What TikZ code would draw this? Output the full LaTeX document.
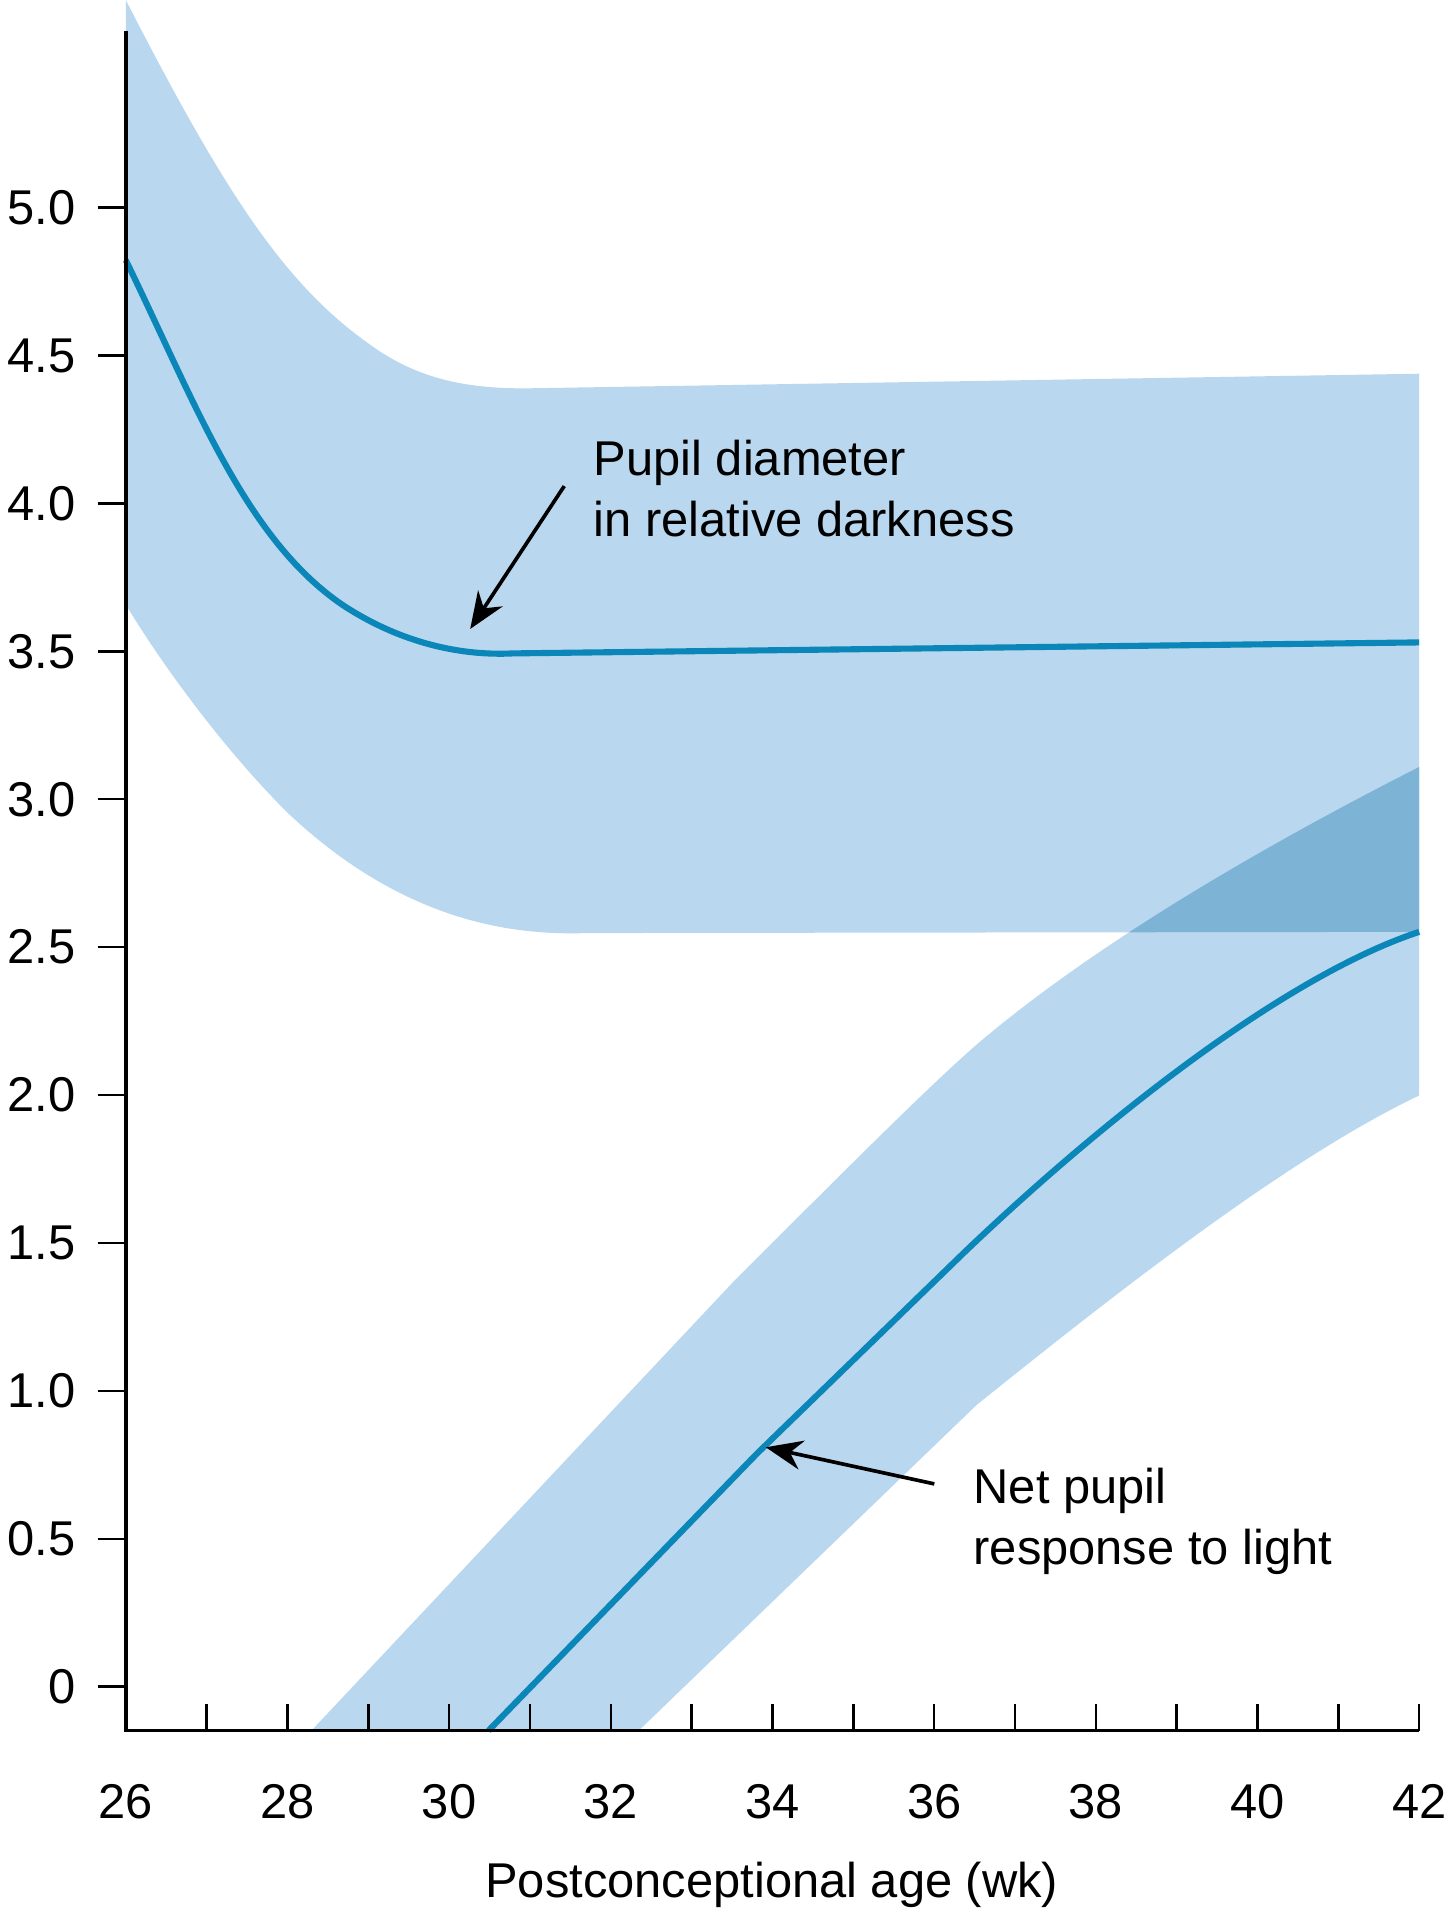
\documentclass[tikz,border=0pt]{standalone}
\usepackage{fontspec}
\setmainfont{Liberation Sans}
\usetikzlibrary{arrows.meta}
\definecolor{band}{HTML}{B9D7EE}
\definecolor{over}{HTML}{7DB3D4}
\definecolor{curve}{HTML}{0A86B8}
\tikzset{lbl/.style={font=\fontsize{40}{50}\selectfont,inner sep=0pt},
 curvestyle/.style={curve,line width=5pt},
 pointer/.style={line width=3pt,-{Stealth[length=30pt,width=24pt]}}}
\begin{document}
\begin{tikzpicture}[x=1pt,y=-1pt]
\useasboundingbox (0,0) rectangle (1186,1568);
\def\upband{(103,0) .. controls (180,150) and (230,230) .. (300,280) .. controls (340,310) and (380,318) .. (430,318) -- (1162,306) -- (1162,763) -- (480,764) .. controls (420,766) and (330,755) .. (235,665) .. controls (180,610) and (130,540) .. (103,495) -- cycle}
\def\loband{(255,1417) -- (600,1050) .. controls (700,950) and (760,890) .. (800,855) .. controls (900,770) and (1040,690) .. (1162,628) -- (1162,897) .. controls (1050,950) and (900,1070) .. (800,1150) -- (523,1417) -- cycle}
\fill[band] \upband;
\fill[band] \loband;
\begin{scope}
\clip \upband;
\fill[over] \loband;
\end{scope}
\draw[curvestyle] (103,213) .. controls (160,330) and (200,440) .. (280,495) .. controls (330,528) and (380,537) .. (420,535) -- (1162,526);
\draw[curvestyle] (400,1417) -- (620,1190) -- (790,1025) .. controls (900,920) and (1050,800) .. (1162,763);
% axes
\draw[line width=3pt] (103,25) -- (103,1417) -- (1162,1417);
\foreach \v [count=\i from 0] in {0,0.5,1.0,1.5,2.0,2.5,3.0,3.5,4.0,4.5,5.0}{
  \pgfmathsetmacro\yy{1381-121.1*\i}
  \draw[line width=2pt] (80,\yy) -- (103,\yy);
  \node[lbl,anchor=east] (yl\i) at (62,\yy) {\v};
}
\foreach \w in {0,...,16}{
  \pgfmathsetmacro\xx{103+66.19*\w}
  \draw[line width=2pt] (\xx,1417) -- (\xx,1395);
}
\foreach \w in {26,28,...,42}{
  \pgfmathsetmacro\xx{103+66.19*(\w-26)}
  \node[lbl] (xl\w) at (\xx,1475) {\w};
}
\node[lbl] (title) at (632,1543) {Postconceptional age (wk)};
\node[lbl,align=left,anchor=north west] (la) at (486,360) {Pupil diameter\\in relative darkness};
\node[lbl,align=left,anchor=north west] (lb) at (797,1202) {Net pupil\\response to light};
\coordinate (a1) at (462,398); \coordinate (a2) at (385,515);
\coordinate (b1) at (765,1215); \coordinate (b2) at (627,1185);
\draw[pointer] (a1) -- (a2);
\draw[pointer] (b1) -- (b2);
\end{tikzpicture}
\end{document}
